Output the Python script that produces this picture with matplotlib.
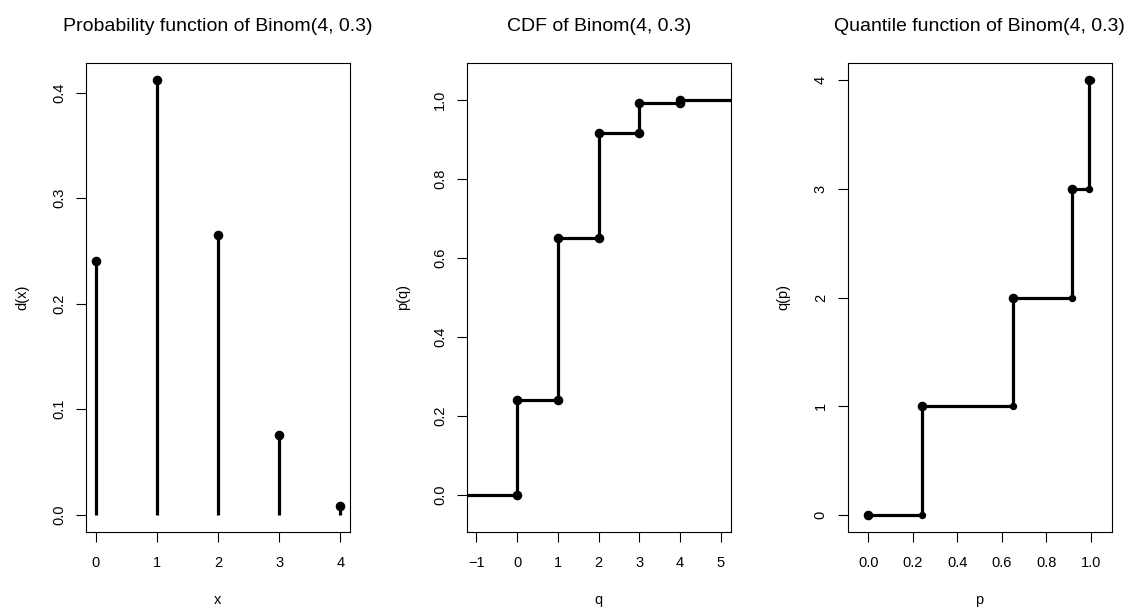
import numpy as np
import matplotlib
matplotlib.use("Agg")
import matplotlib.pyplot as plt

plt.rcParams['font.family'] = ['Liberation Sans', 'DejaVu Sans']

# ---- data ----
x_vals = [0, 1, 2, 3, 4]
pmf = [0.2401, 0.4116, 0.2646, 0.0756, 0.0081]
cdf = [0.2401, 0.6517, 0.9163, 0.9919, 1.0]

titles = ["Probability function of Binom(4, 0.3)",
          "CDF of Binom(4, 0.3)",
          "Quantile function of Binom(4, 0.3)"]
xlabels = ["x", "q", "p"]
ylabels = ["d(x)", "p(q)", "q(p)"]

p1_yticks = [0.0, 0.1, 0.2, 0.3, 0.4]
p2_xticks = [-1, 0, 1, 2, 3, 4, 5]
p2_yticks = [0.0, 0.2, 0.4, 0.6, 0.8, 1.0]
p3_xticks = [0.0, 0.2, 0.4, 0.6, 0.8, 1.0]
p3_yticks = [0, 1, 2, 3, 4]

W, H = 1133, 612
fig = plt.figure(figsize=(W / 100, H / 100), dpi=100)

lefts = [86, 466.7, 847.5]
width_px = 264
top_px, bot_px = 63, 532
h_px = bot_px - top_px

LW = 2.3
MS = 5.9
MS_SMALL = 4.3
FS_TICK = 10.5
FS_TITLE = 14

def rlim(lo, hi):
    d = (hi - lo) * 0.04
    return lo - d, hi + d

axes = []
for i, l in enumerate(lefts):
    ax = fig.add_axes([l / W, 1 - bot_px / H, width_px / W, h_px / H])
    axes.append(ax)
    for s in ax.spines.values():
        s.set_linewidth(0.8)
        s.set_color('black')
    ax.tick_params(direction='out', length=7.2, width=0.8, labelsize=FS_TICK, colors='black')
    ax.tick_params(axis='x', pad=10)
    ax.tick_params(axis='y', pad=7)
    ax.text(0.5, 1 + (top_px - 30.7) / h_px, titles[i], transform=ax.transAxes,
            ha='center', va='baseline', fontsize=FS_TITLE)
    ax.text(0.5, -(604 - bot_px) / h_px, xlabels[i], transform=ax.transAxes,
            ha='center', va='baseline', fontsize=FS_TICK)
    ax.text(-60 / width_px, 0.5, ylabels[i], transform=ax.transAxes, ha='center',
            va='baseline', rotation=90, rotation_mode='anchor', fontsize=FS_TICK)

# ---- Panel 1: probability function ----
ax = axes[0]
ax.vlines(x_vals, 0, pmf, colors='black', linewidth=LW)
ax.plot(x_vals, pmf, 'o', color='black', markersize=MS)
ax.set_xlim(*rlim(min(x_vals), max(x_vals)))
ax.set_ylim(*rlim(0, max(pmf)))
ax.set_xticks(x_vals)
ax.set_xticklabels([str(v) for v in x_vals])
ax.set_yticks(p1_yticks)
ax.set_yticklabels([f"{v:.1f}" for v in p1_yticks])

# ---- Panel 2: CDF ----
ax = axes[1]
xl2 = rlim(min(p2_xticks), max(p2_xticks))
yl2 = rlim(-0.05, 1.05)
prev = [0.0] + cdf[:-1]
xs = [xl2[0] - 1]
ys = [0.0]
for k, (lo, hi) in enumerate(zip(prev, cdf)):
    xs += [x_vals[k], x_vals[k]]
    ys += [lo, hi]
xs.append(xl2[1] + 1)
ys.append(cdf[-1])
ax.plot(xs, ys, color='black', linewidth=LW, solid_joinstyle='miter')
ax.plot(x_vals, prev, 'o', color='black', markersize=MS)
ax.plot(x_vals, cdf, 'o', color='black', markersize=MS)
ax.set_xlim(*xl2)
ax.set_ylim(*yl2)
ax.set_xticks(p2_xticks)
ax.set_xticklabels(["\u22121" if v < 0 else str(v) for v in p2_xticks])
ax.set_yticks(p2_yticks)
ax.set_yticklabels([f"{v:.1f}" for v in p2_yticks])

# ---- Panel 3: quantile function ----
ax = axes[2]
starts = [0.0] + cdf[:-1]
ends = cdf
qx, qy = [], []
for k in range(len(x_vals)):
    if k > 0:
        qx += [starts[k]]
        qy += [x_vals[k - 1]]
    qx += [starts[k], ends[k]]
    qy += [x_vals[k], x_vals[k]]
ax.plot(qx, qy, color='black', linewidth=LW, solid_joinstyle='miter')
ax.plot(starts, x_vals, 'o', color='black', markersize=MS)
ax.plot(ends, x_vals, 'o', color='black', markersize=MS_SMALL)
ax.set_xlim(*rlim(-0.05, 1.05))
ax.set_ylim(*rlim(min(x_vals), max(x_vals)))
ax.set_xticks(p3_xticks)
ax.set_xticklabels([f"{v:.1f}" for v in p3_xticks])
ax.set_yticks(p3_yticks)
ax.set_yticklabels([str(v) for v in p3_yticks])

for ax in axes:
    for lab in ax.get_yticklabels():
        lab.set_rotation(90)
        lab.set_verticalalignment('center')

fig.savefig("out.png", dpi=100, facecolor='white')
